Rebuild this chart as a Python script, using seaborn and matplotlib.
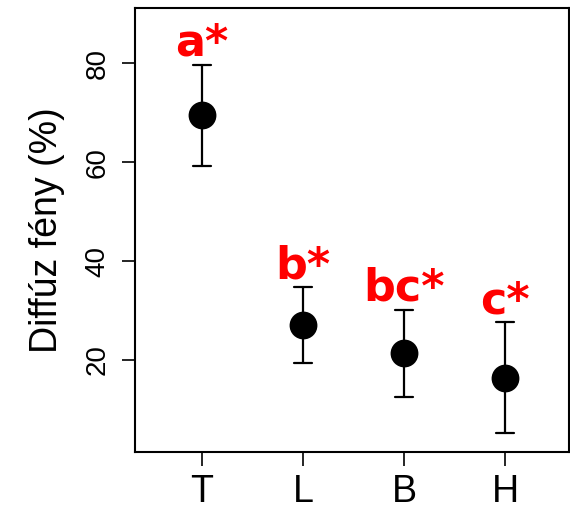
import numpy as np
import pandas as pd
import matplotlib
matplotlib.use("Agg")
import matplotlib.pyplot as plt
import seaborn as sns

# Diffuse light per site: mean with lower/upper interval limits
sites = ["T", "L", "B", "H"]
means = [69.5, 27.1, 21.5, 16.4]
lower = [59.3, 19.5, 12.6, 5.3]
upper = [79.7, 34.7, 30.2, 27.6]
groups = ["a*", "b*", "bc*", "c*"]

y_ticks = [20, 40, 60, 80]

sns.set_theme(style="white")
plt.rcParams["font.family"] = ["Liberation Sans", "DejaVu Sans"]
plt.rcParams["text.color"] = "black"
plt.rcParams["axes.labelcolor"] = "black"

# long table: each site carries its lower limit, mean and upper limit
df = pd.DataFrame({
    "site": np.repeat(sites, 3),
    "value": np.ravel(np.column_stack([lower, means, upper])),
})

fig = plt.figure(figsize=(5.70, 5.11), dpi=100)
ax = fig.add_axes([135 / 570, 59 / 511, 434 / 570, 444 / 511])

sns.pointplot(
    data=df, x="site", y="value", order=sites,
    estimator="median", errorbar=("pi", 100),
    color="black", linestyle="none", marker="o", markersize=18,
    capsize=0.18, err_kws={"linewidth": 1.6}, ax=ax,
)

# significance group letters above each upper limit
for i, (g, hi) in enumerate(zip(groups, upper)):
    ax.text(i, hi + 1.8, g, ha="center", va="baseline", color="#ff0000",
            fontsize=32, fontweight="bold", family="DejaVu Sans")

ax.set_xlim(-0.663, 3.63)
ax.set_ylim(1.4, 91.2)
ax.set_yticks(y_ticks)
ax.set_yticklabels([str(t) for t in y_ticks], rotation=90, va="center")
ax.set_xlabel("")
ax.set_ylabel("Diffúz fény (%)", fontsize=27, labelpad=14, color="black")

for s in ax.spines.values():
    s.set_visible(True)
    s.set_color("black")
    s.set_linewidth(1.5)

ax.tick_params(axis="y", which="major", left=True, length=9.5, width=1.2,
               color="black", labelsize=20, pad=8, labelcolor="black")
ax.tick_params(axis="x", which="major", bottom=True, length=10, width=1.2,
               color="black", labelsize=27, pad=6, labelcolor="black")

fig.savefig("out.png", dpi=100, facecolor="white")
